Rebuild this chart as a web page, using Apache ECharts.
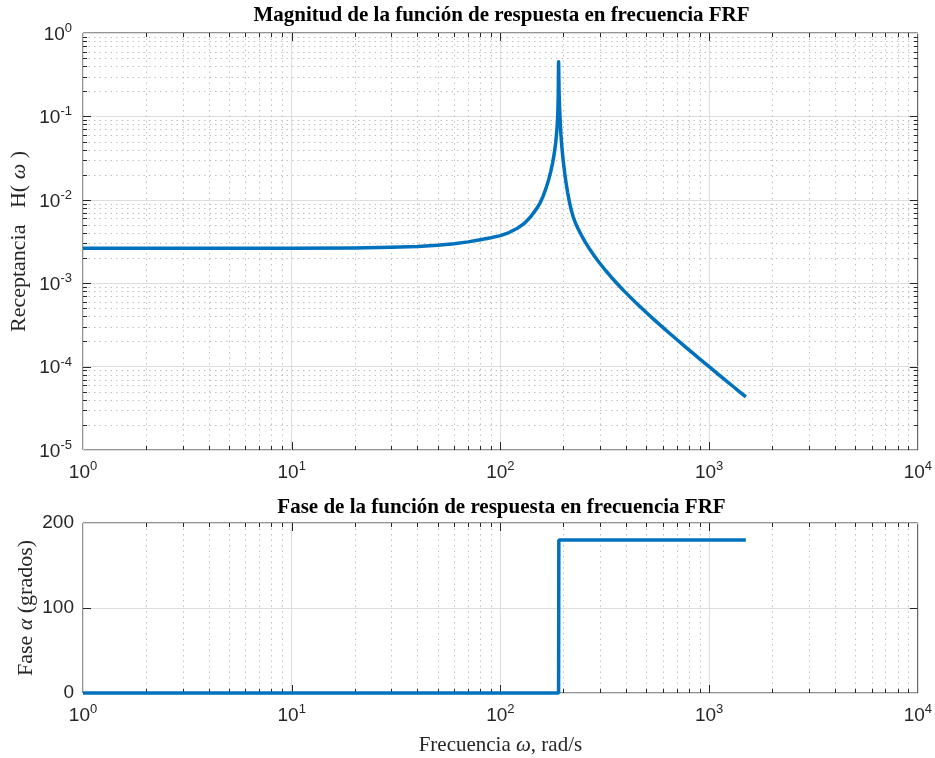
<!DOCTYPE html>
<html>
<head>
<meta charset="utf-8">
<script src="https://cdn.jsdelivr.net/npm/echarts@6/dist/echarts.min.js"></script>
<style>
  html, body { margin: 0; padding: 0; background: #ffffff; }
  #chart { width: 935px; height: 758px; }
</style>
</head>
<body>
<div id="chart"></div>
<script>
// Frequency axis samples (rad/s) and receptance magnitude |H(w)|
const omega = [
  1, 2, 5, 10, 20, 30, 40, 50, 60, 70, 80, 90, 100, 110, 120, 130, 140, 150,
  155, 160, 165, 170, 174, 178, 181, 184, 186, 187.5, 188.5, 189.3, 190,
  191, 192, 193, 194, 195, 197, 199, 201, 204, 207, 210, 214, 218, 223, 229,
  235, 241, 248, 255, 267, 280, 293, 306, 320, 340, 361, 390, 420, 450, 500,
  550, 600, 650, 700, 750, 800, 850, 900, 950, 1000, 1100, 1200, 1300, 1400,
  1500
];
const receptance = [
  0.00262, 0.00262, 0.00262, 0.00263, 0.00265, 0.00269, 0.00276, 0.00286,
  0.00298, 0.00313, 0.00332, 0.00350, 0.00372, 0.00405, 0.00452, 0.00520,
  0.00630, 0.00800,
  0.00920, 0.0110, 0.0135, 0.0172, 0.0215, 0.0280, 0.0355, 0.0480, 0.0640,
  0.0850, 0.115, 0.180, 0.453,
  0.200, 0.130, 0.098, 0.076, 0.060, 0.043, 0.0330, 0.0262, 0.0195, 0.0152,
  0.0122, 0.0095, 0.0077, 0.0063, 0.00525,
  0.00456, 0.00402, 0.00351, 0.00311, 0.00259, 0.00217, 0.00186, 0.00162,
  0.00141, 0.00118, 0.00100, 0.000815, 0.000676, 0.000571, 0.000445,
  0.000358, 0.000295, 0.000248, 0.000211, 0.000182, 0.000159, 0.000140,
  0.000124, 0.000111, 0.000100, 0.0000818, 0.0000684, 0.0000581, 0.0000499,
  0.0000434
];

// Phase angle (degrees)
const phaseOmega = [1, 190, 190.5, 1500];
const phaseDeg = [0, 0, 180, 180];

// Tick labels
const freqExponents = [0, 1, 2, 3, 4];
const magExponents = [-5, -4, -3, -2, -1, 0];
const phaseTicks = [0, 100, 200];

const SANS = '"Liberation Sans", Arial, Helvetica, sans-serif';
const SERIF = '"Liberation Serif", "Times New Roman", Times, serif';
const AXIS_COLOR = '#262626';
const LINE_COLOR = '#0072BD';
const MAJOR_GRID = '#dedede';
const MINOR_GRID = '#c2c2c2';

// Minor tick positions for log axes: 2..9 times each decade
function minorLogValues(fromExp, toExp) {
  const out = [];
  for (let e = fromExp; e < toExp; e++) {
    for (let m = 2; m <= 9; m++) out.push(m * Math.pow(10, e));
  }
  return out;
}

const powRich = {
  b: { fontSize: 19, fontFamily: SANS, color: AXIS_COLOR, verticalAlign: 'bottom' },
  s: { fontSize: 13, fontFamily: SANS, color: AXIS_COLOR, verticalAlign: 'bottom', padding: [0, 0, 9, 0] }
};

function powLabel(list) {
  return function (v) {
    const e = Math.round(Math.log10(v));
    if (list.indexOf(e) < 0) return '';
    return '{b|10}{s|' + (e < 0 ? '-' + Math.abs(e) : e) + '}';
  };
}

function axisTitle(size) {
  return {
    rich: {
      t: { fontFamily: SERIF, fontSize: size, color: AXIS_COLOR },
      i: { fontFamily: SERIF, fontSize: size, fontStyle: 'italic', color: AXIS_COLOR }
    }
  };
}

// Ticks on all four sides of a plot box, with optional dotted minor grid
function edgeMarks(gridIndex, dim, values, ref, len, dotted) {
  return {
    type: 'custom',
    xAxisIndex: gridIndex,
    yAxisIndex: gridIndex,
    silent: true,
    clip: false,
    z: 1,
    data: values.map(v => (dim === 'x' ? [v, ref] : [ref, v])),
    renderItem: function (params, api) {
      const cs = params.coordSys;
      const p = api.coord([api.value(0), api.value(1)]);
      const tick = { stroke: AXIS_COLOR, lineWidth: 1 };
      const dots = { stroke: MINOR_GRID, lineWidth: 1, lineDash: [1.5, 4] };
      const children = [];
      if (dim === 'x') {
        const x = Math.round(p[0]) + 0.5;
        const top = cs.y, bot = cs.y + cs.height;
        if (dotted) children.push({ type: 'line', shape: { x1: x, y1: top, x2: x, y2: bot }, style: dots });
        children.push({ type: 'line', shape: { x1: x, y1: bot, x2: x, y2: bot - len }, style: tick });
        children.push({ type: 'line', shape: { x1: x, y1: top, x2: x, y2: top + len }, style: tick });
      } else {
        const y = Math.round(p[1]) + 0.5;
        const left = cs.x, right = cs.x + cs.width;
        if (dotted) children.push({ type: 'line', shape: { x1: left, y1: y, x2: right, y2: y }, style: dots });
        children.push({ type: 'line', shape: { x1: left, y1: y, x2: left + len, y2: y }, style: tick });
        children.push({ type: 'line', shape: { x1: right, y1: y, x2: right - len, y2: y }, style: tick });
      }
      return { type: 'group', children: children };
    }
  };
}

const freqMajor = freqExponents.map(e => Math.pow(10, e));
const magMajor = magExponents.map(e => Math.pow(10, e));

const chart = echarts.init(document.getElementById('chart'), null, { renderer: 'canvas' });

chart.setOption({
  animation: false,
  backgroundColor: '#ffffff',
  graphic: [
    {
      type: 'text', x: 501.5, y: 16, z: 10,
      style: {
        text: 'Magnitud de la función de respuesta en frecuencia FRF',
        font: 'bold 21px ' + SERIF, fill: '#000000',
        align: 'center', verticalAlign: 'middle', textAlign: 'center', textVerticalAlign: 'middle'
      }
    },
    {
      type: 'text', x: 501.5, y: 508, z: 10,
      style: {
        text: 'Fase de la función de respuesta en frecuencia FRF',
        font: 'bold 21px ' + SERIF, fill: '#000000',
        align: 'center', verticalAlign: 'middle', textAlign: 'center', textVerticalAlign: 'middle'
      }
    }
  ],
  grid: [
    { left: 83, top: 33, width: 837, height: 417, show: true, borderColor: AXIS_COLOR, borderWidth: 1, backgroundColor: '#ffffff' },
    { left: 83, top: 523, width: 837, height: 170, show: true, borderColor: AXIS_COLOR, borderWidth: 1, backgroundColor: '#ffffff' }
  ],
  xAxis: [
    {
      gridIndex: 0, type: 'log', logBase: 10, min: 1, max: 10000,
      axisLine: { show: false }, axisTick: { show: false },
      axisLabel: { formatter: powLabel(freqExponents), rich: powRich, margin: 10 },
      splitLine: { show: true, lineStyle: { color: MAJOR_GRID, width: 1 } }
    },
    {
      gridIndex: 1, type: 'log', logBase: 10, min: 1, max: 10000,
      axisLine: { show: false }, axisTick: { show: false },
      axisLabel: { formatter: powLabel(freqExponents), rich: powRich, margin: 10 },
      splitLine: { show: true, lineStyle: { color: MAJOR_GRID, width: 1 } },
      name: '{t|Frecuencia }{i|ω}{t|, rad/s}',
      nameLocation: 'middle', nameGap: 42, nameMoveOverlap: false,
      nameTextStyle: axisTitle(21)
    }
  ],
  yAxis: [
    {
      gridIndex: 0, type: 'log', logBase: 10, min: 0.00001, max: 1,
      axisLine: { show: false }, axisTick: { show: false },
      axisLabel: { formatter: powLabel(magExponents), rich: powRich, margin: 11 },
      splitLine: { show: true, lineStyle: { color: MAJOR_GRID, width: 1 } },
      name: '{t|Receptancia   H( }{i|ω}{t| )}',
      nameLocation: 'middle', nameGap: 53, nameMoveOverlap: false,
      nameTextStyle: axisTitle(22)
    },
    {
      gridIndex: 1, type: 'value', min: 0, max: 200, interval: 100,
      axisLine: { show: false }, axisTick: { show: false },
      axisLabel: {
        margin: 9, fontFamily: SANS, fontSize: 19, color: AXIS_COLOR,
        formatter: v => (phaseTicks.indexOf(v) >= 0 ? String(v) : '')
      },
      splitLine: { show: true, lineStyle: { color: MAJOR_GRID, width: 1 } },
      name: '{t|Fase }{i|α}{t| (grados)}',
      nameLocation: 'middle', nameGap: 46, nameMoveOverlap: false,
      nameTextStyle: axisTitle(22)
    }
  ],
  series: [
    edgeMarks(0, 'x', minorLogValues(0, 4), 0.01, 4, true),
    edgeMarks(0, 'y', minorLogValues(-5, 0), 10, 4, true),
    edgeMarks(0, 'x', freqMajor.slice(1, -1), 0.01, 8, false),
    edgeMarks(0, 'y', magMajor.slice(1, -1), 10, 8, false),
    edgeMarks(1, 'x', minorLogValues(0, 4), 100, 4, true),
    edgeMarks(1, 'x', freqMajor.slice(1, -1), 100, 8, false),
    edgeMarks(1, 'y', [100], 10, 8, false),
    {
      type: 'line', xAxisIndex: 0, yAxisIndex: 0, z: 5, clip: false,
      showSymbol: false, symbol: 'none', silent: true,
      lineStyle: { color: LINE_COLOR, width: 3.5, join: 'round' },
      data: omega.map((w, i) => [w, receptance[i]])
    },
    {
      type: 'line', xAxisIndex: 1, yAxisIndex: 1, z: 5, clip: false,
      showSymbol: false, symbol: 'none', silent: true,
      lineStyle: { color: LINE_COLOR, width: 3.5 },
      data: phaseOmega.map((w, i) => [w, phaseDeg[i]])
    }
  ]
});
</script>
</body>
</html>
